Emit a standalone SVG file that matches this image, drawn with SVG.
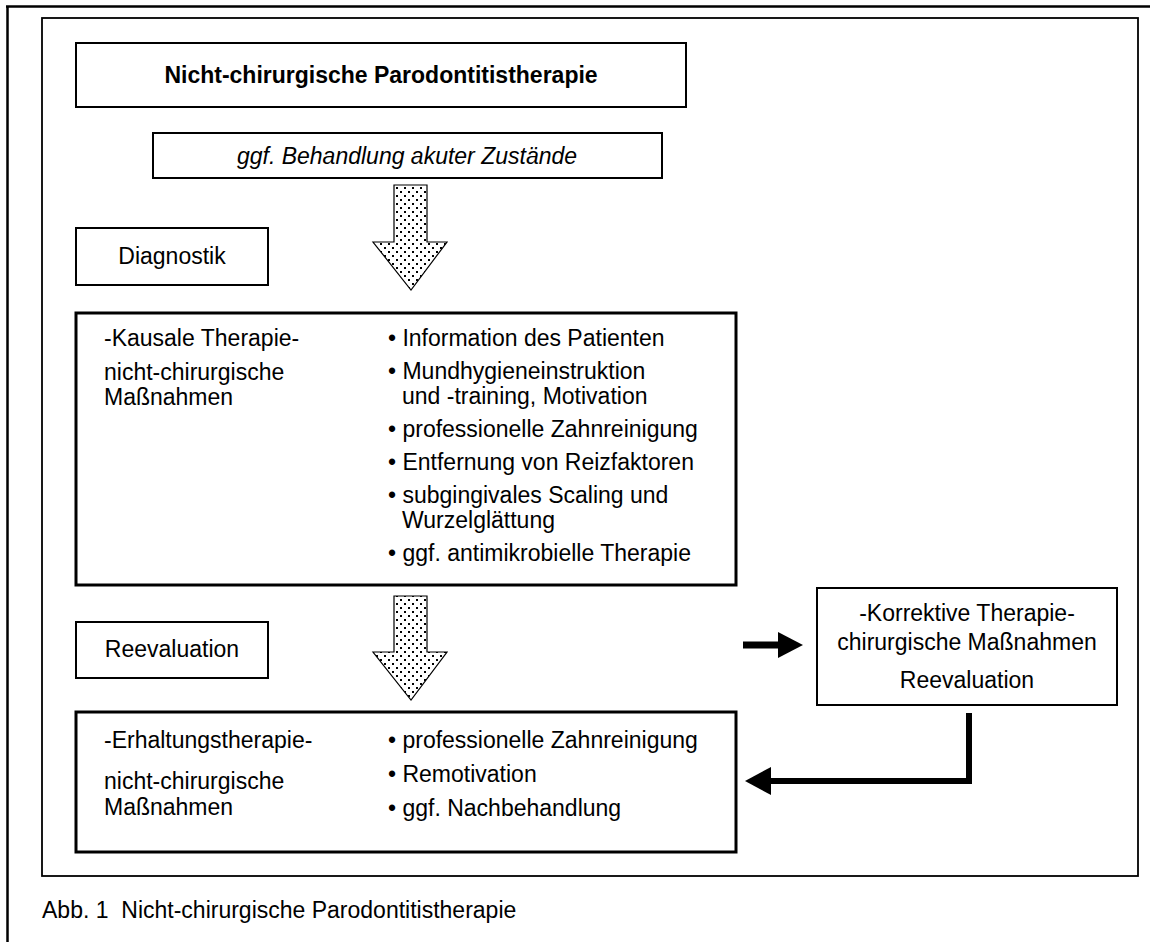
<svg xmlns="http://www.w3.org/2000/svg" width="1150" height="942" viewBox="0 0 1150 942">
<defs>
<pattern id="dots" width="8" height="8" patternUnits="userSpaceOnUse" x="394" y="185">
<rect width="8" height="8" fill="#fff"/>
<rect x="2" y="2" width="2" height="2" fill="#000"/>
<rect x="6" y="6" width="2" height="2" fill="#000"/>
</pattern>
</defs>
<style>
text{font-family:"Liberation Sans",Arial,sans-serif;fill:#000}
.t{font-size:23px}
.c{text-anchor:middle}
.box{fill:#fff;stroke:#000;stroke-width:2}
.bbox{fill:#fff;stroke:#000;stroke-width:3}
.arr{fill:url(#dots);stroke:#000;stroke-width:1.2}
</style>
<rect width="1150" height="942" fill="#fff"/>
<g id="frame">
<path d="M6,6.5 H1150 M7.5,6 V942" stroke="#000" stroke-width="2.5" fill="none"/>
<rect x="42" y="18" width="1096" height="858" fill="none" stroke="#000" stroke-width="1.8"/>
</g>
<g id="title">
<rect class="box" x="76" y="43" width="610" height="64"/>
<text x="381" y="83" class="c" style="font-size:23px;font-weight:bold">Nicht-chirurgische Parodontitistherapie</text>
</g>
<g id="akut">
<rect class="box" x="153" y="133" width="509" height="45"/>
<text x="407" y="164" class="t c" style="font-style:italic">ggf. Behandlung akuter Zustände</text>
</g>
<g id="diagnostik">
<rect class="box" x="76" y="228" width="192" height="57"/>
<text x="172" y="264" class="t c">Diagnostik</text>
</g>
<g id="kausal">
<rect class="bbox" x="76" y="313" width="660" height="272"/>
<text x="104" y="346" class="t">-Kausale Therapie-</text>
<text x="104" y="380" class="t">nicht-chirurgische</text>
<text x="104" y="405" class="t">Maßnahmen</text>
<text x="388" y="346" class="t">• Information des Patienten</text>
<text x="388" y="379" class="t">• Mundhygieneinstruktion</text>
<text x="402" y="404" class="t">und -training, Motivation</text>
<text x="388" y="437" class="t">• professionelle Zahnreinigung</text>
<text x="388" y="470" class="t">• Entfernung von Reizfaktoren</text>
<text x="388" y="503" class="t">• subgingivales Scaling und</text>
<text x="402" y="528" class="t">Wurzelglättung</text>
<text x="388" y="561" class="t">• ggf. antimikrobielle Therapie</text>
</g>
<g id="reevaluation">
<rect class="box" x="76" y="622" width="192" height="56"/>
<text x="172" y="657" class="t c">Reevaluation</text>
</g>
<g id="korrektiv">
<rect class="box" x="817" y="588" width="300" height="117"/>
<text x="967" y="621" class="t c">-Korrektive Therapie-</text>
<text x="967" y="650" class="t c">chirurgische Maßnahmen</text>
<text x="967" y="688" class="t c">Reevaluation</text>
</g>
<g id="erhaltung">
<rect class="bbox" x="76" y="712" width="660" height="140"/>
<text x="104" y="748" class="t">-Erhaltungstherapie-</text>
<text x="104" y="789" class="t">nicht-chirurgische</text>
<text x="104" y="815" class="t">Maßnahmen</text>
<text x="388" y="748" class="t">• professionelle Zahnreinigung</text>
<text x="388" y="782" class="t">• Remotivation</text>
<text x="388" y="816" class="t">• ggf. Nachbehandlung</text>
</g>
<g id="connectors">
<path class="arr" d="M394,185 H427 V242 H447 L411,290 L373,242 H394 Z"/>
<path class="arr" d="M394,596 H427 V652 H447 L411,700 L373,652 H394 Z"/>
<path d="M743,645 H780" stroke="#000" stroke-width="7" fill="none"/>
<path d="M778,632 L803,645 L778,658 Z" fill="#000"/>
<path d="M969,713 V781 H768" stroke="#000" stroke-width="6" fill="none" stroke-linejoin="miter"/>
<path d="M771,767 L745,781 L771,795 Z" fill="#000"/>
</g>
<g id="caption">
<text x="42" y="918" class="t" xml:space="preserve">Abb. 1  Nicht-chirurgische Parodontitistherapie</text>
</g>
</svg>
